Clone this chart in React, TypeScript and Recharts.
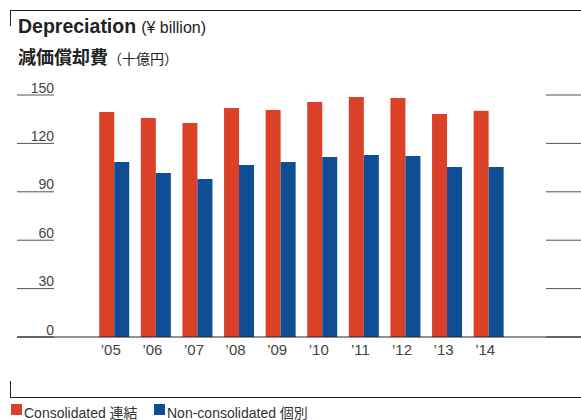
import React from 'react';
import { BarChart, Bar, XAxis, YAxis, CartesianGrid } from 'recharts';

const years = ['’05', '’06', '’07', '’08', '’09', '’10', '’11', '’12', '’13', '’14'];
const consolidated = [139.5, 135.8, 132.7, 142, 140.7, 145.7, 148.8, 148.2, 138.3, 140.2];
const nonConsolidated = [108.5, 101.7, 98, 106.6, 108.5, 111.6, 112.8, 112.2, 105.4, 105.4];
const yTicks = [0, 30, 60, 90, 120, 150];

const RED = '#DB4028';
const BLUE = '#0F4D95';
const FONT = '"Liberation Sans", Arial, "Noto Sans CJK JP", sans-serif';

const data = years.map((year, i) => ({
  year,
  consolidated: consolidated[i],
  nonConsolidated: nonConsolidated[i]
}));

// only short stubs of each gridline show, at the left and right edges
const GridStub = (props: any) => {
  const { x1, x2, y1 } = props;
  return (
    <g>
      <line x1={x1} x2={x1 + 37} y1={y1} y2={y1} stroke="#555" strokeWidth={1} />
      <line x1={x2 - 35} x2={x2} y1={y1} y2={y1} stroke="#555" strokeWidth={1} />
    </g>
  );
};

const YTick = ({ x, y, payload }: any) => (
  <text x={x + 37} y={y - 2.5} textAnchor="end" fontSize={14} fill="#444" fontFamily={FONT}>
    {payload.value}
  </text>
);

const XTick = ({ x, y, payload }: any) => (
  <text x={x - 3} y={y + 18} textAnchor="middle" fontSize={15} fill="#444" fontFamily={FONT}>
    {payload.value}
  </text>
);

export default function App() {
  return (
    <div style={{ position: 'absolute', left: 0, top: 0, width: 581, height: 420, background: '#fff', overflow: 'hidden' }}>
      {/* frame brackets */}
      <div style={{ position: 'absolute', left: 10, top: 10, width: 571, height: 1, background: '#222' }} />
      <div style={{ position: 'absolute', left: 10, top: 10, width: 1, height: 16, background: '#222' }} />
      <div style={{ position: 'absolute', left: 10, top: 381, width: 1, height: 17, background: '#222' }} />
      <div style={{ position: 'absolute', left: 10, top: 397, width: 571, height: 1, background: '#222' }} />

      <div style={{ position: 'absolute', left: 18, top: 15, fontFamily: FONT, color: '#222', whiteSpace: 'nowrap' }}>
        <span style={{ fontSize: 19.5, fontWeight: 'bold' }}>Depreciation</span>
        <span style={{ fontSize: 16, marginLeft: 5 }}>(¥ billion)</span>
      </div>
      <div style={{ position: 'absolute', left: 18, top: 43, fontFamily: FONT, color: '#222', whiteSpace: 'nowrap' }}>
        <span style={{ fontSize: 18, fontWeight: 'bold' }}>減価償却費</span>
        <span style={{ fontSize: 14 }}>（十億円）</span>
      </div>

      <BarChart
        width={581}
        height={420}
        data={data}
        margin={{ top: 95, right: 0, left: 16, bottom: 82 }}
        barCategoryGap="15%"
        barGap={0}
        style={{ position: 'absolute', left: 0, top: 0 }}
      >
        <CartesianGrid vertical={false} horizontal={GridStub} />
        <XAxis
          dataKey="year"
          height={1}
          padding={{ left: 76, right: 72 }}
          axisLine={{ stroke: '#222', strokeWidth: 1 }}
          tickLine={false}
          tickSize={0}
          tickMargin={0}
          tick={<XTick />}
          interval={0}
        />
        <YAxis
          width={1}
          domain={[0, 150]}
          ticks={yTicks}
          interval={0}
          axisLine={false}
          tickLine={false}
          tickSize={0}
          tickMargin={0}
          tick={<YTick />}
        />
        <Bar dataKey="consolidated" name="Consolidated 連結" fill={RED} isAnimationActive={false} />
        <Bar dataKey="nonConsolidated" name="Non-consolidated 個別" fill={BLUE} isAnimationActive={false} />
      </BarChart>

      {/* legend */}
      <div style={{ position: 'absolute', left: 0, top: 402, width: 581, height: 16, fontFamily: FONT, fontSize: 14, color: '#333' }}>
        <span style={{ position: 'absolute', left: 11, top: 2, width: 11, height: 11, background: RED }} />
        <span style={{ position: 'absolute', left: 24, top: 0, whiteSpace: 'nowrap' }}>Consolidated 連結</span>
        <span style={{ position: 'absolute', left: 154, top: 2, width: 11, height: 11, background: BLUE }} />
        <span style={{ position: 'absolute', left: 167, top: 0, whiteSpace: 'nowrap' }}>Non-consolidated 個別</span>
      </div>
    </div>
  );
}
